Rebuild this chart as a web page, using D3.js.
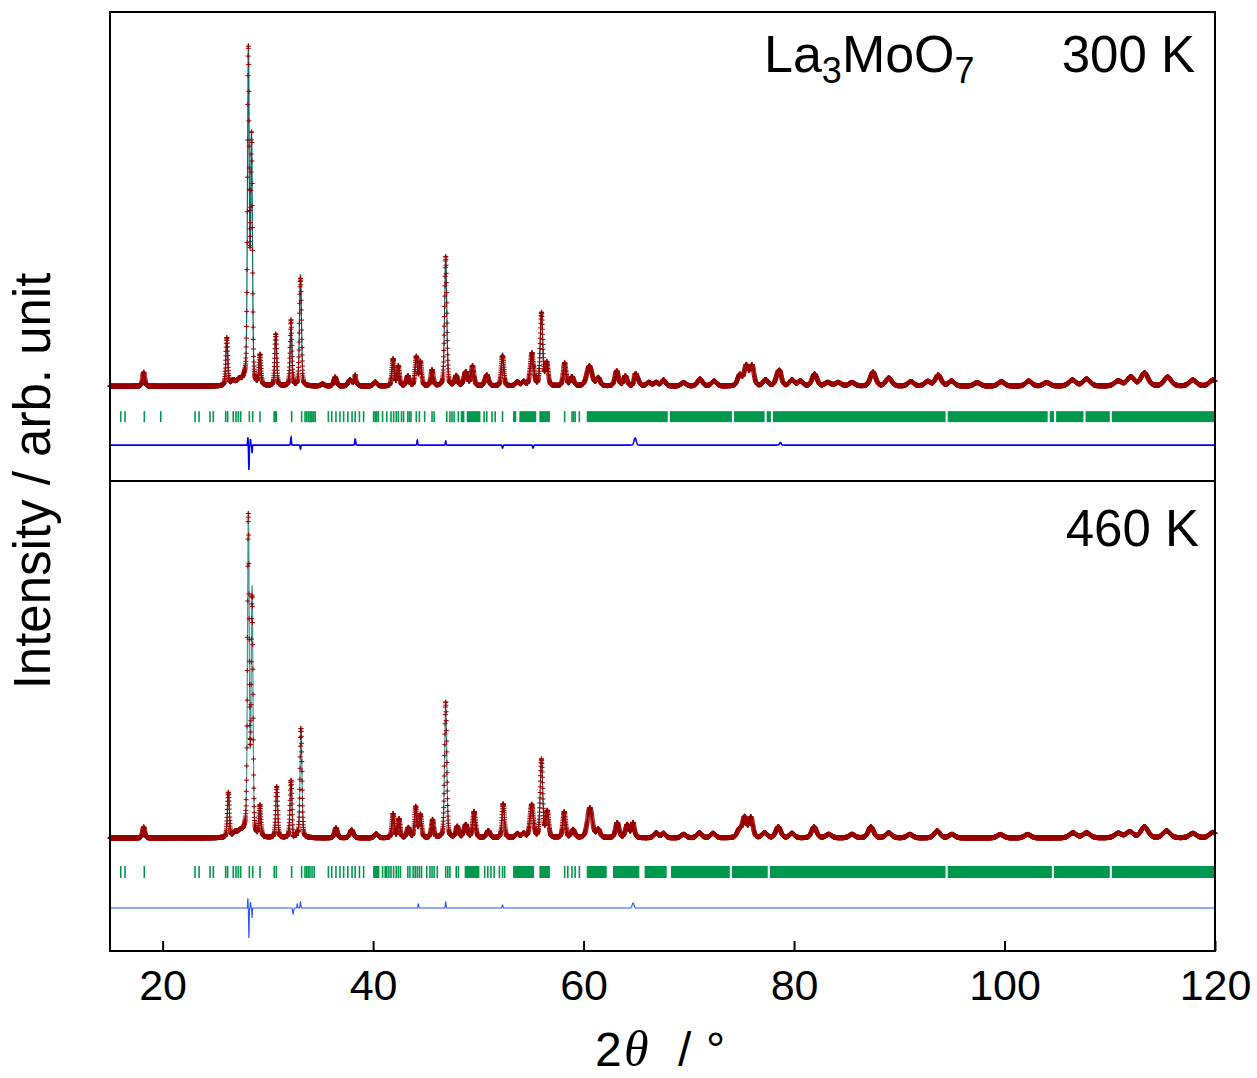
<!DOCTYPE html>
<html>
<head>
<meta charset="utf-8">
<script src="https://cdn.jsdelivr.net/npm/d3@7"></script>
<style>
body { margin: 0; background: #fff; }
text { font-family: "Liberation Sans", Arial, sans-serif; fill: #000; }
</style>
</head>
<body>
<div id="mainDiv"></div>
<script>
'use strict';

// ---- 300 K : peaks (2theta, height, fwhm) ----
var peakPos300 = [18.2, 26.1, 26.7, 27.3, 27.8, 28.15, 28.45, 29.25, 30.75, 32.2, 33.1, 35.2, 36.4, 37.8, 38.3, 40.2,
    41.9, 42.4, 43.3, 44.1, 44.5, 45.6, 46.9, 47.9, 48.8, 49.45, 50.8, 52.3, 53.7, 54.3, 55.1, 56.0, 56.5, 58.2, 58.9,
    60.55, 61.4, 63.15, 63.97, 65.08, 66.2, 66.9, 67.6, 69.5, 71.06, 72.4, 74.85, 75.46, 76.0, 77.3, 78.54, 79.8, 80.6,
    81.95, 83.2, 84.2, 85.5, 87.5, 89.0, 91.1, 92.7, 93.7, 94.96, 97.4, 99.7, 102.3, 104.0, 106.45, 107.8, 110.8, 112.0,
    113.3, 115.5, 117.9, 119.8];
var peakHgt300 = [140, 480, 50, 60, 60, 3350, 2450, 300, 520, 580, 1120, 20, 90, 60, 50, 40,
    270, 200, 100, 290, 240, 160, 1260, 100, 140, 200, 110, 330, 40, 40, 330, 730, 230, 230, 90,
    200, 80, 150, 100, 80, 35, 35, 60, 35, 70, 50, 110, 200, 200, 60, 150, 60, 50,
    120, 35, 35, 35, 140, 80, 45, 45, 110, 50, 35, 45, 50, 35, 60, 70, 50, 90,
    130, 90, 60, 60];
var peakFw300 = [0.26, 0.22, 0.5, 0.5, 0.4, 0.2, 0.2, 0.22, 0.22, 0.22, 0.22, 0.4, 0.32, 0.4, 0.4, 0.4,
    0.26, 0.26, 0.32, 0.26, 0.26, 0.28, 0.25, 0.32, 0.4, 0.32, 0.4, 0.28, 0.4, 0.4, 0.38, 0.28, 0.32, 0.32, 0.4,
    0.6, 0.4, 0.4, 0.4, 0.45, 0.5, 0.5, 0.45, 0.55, 0.55, 0.55, 0.5, 0.45, 0.45, 0.55, 0.55, 0.55, 0.55,
    0.55, 0.65, 0.65, 0.65, 0.6, 0.65, 0.65, 0.65, 0.65, 0.65, 0.7, 0.7, 0.7, 0.7, 0.8, 0.8, 0.8, 0.8,
    0.8, 0.8, 0.8, 0.8];
// difference (obs - calc) features
var diffPos300 = [28.1, 28.2, 28.35, 28.5, 32.2, 33.1, 38.3, 44.2, 46.9, 52.3, 55.2, 64.9, 78.7];
var diffAmp300 = [80, -250, 60, -80, 80, -40, 60, 50, 40, -30, -30, 70, 25];
var diffFw300 = [0.05, 0.06, 0.05, 0.05, 0.08, 0.08, 0.1, 0.08, 0.08, 0.1, 0.1, 0.25, 0.2];
// Bragg reflection markers
var refl300 = [16.02, 16.43, 18.26, 19.82, 23.08, 23.46, 24.5, 24.82, 25.99, 26.18, 26.71, 26.97, 27.19, 27.42,
    28.24, 28.56, 29.25, 30.6, 30.7, 30.8, 32.26, 33.21, 33.53, 33.69, 33.84, 34.0, 34.1, 34.2, 34.35, 34.5,
    35.75, 36.07, 36.47, 36.85, 37.2, 37.6, 38.0, 38.3, 38.7, 39.1, 40.05, 40.2, 40.35, 40.5, 40.9, 41.3, 41.7,
    41.95, 42.2, 42.4, 42.7, 42.9, 43.3, 43.45, 43.6, 44.1, 44.4, 44.9, 45.6, 45.8, 47.0, 47.3, 47.5, 47.7,
    48.1, 48.4, 48.5, 48.6, 50.55, 50.8, 51.3, 51.6, 52.3, 58.2, 58.9, 59.05, 59.2, 59.6];
var reflBands300 = [[48.9, 50.2], [53.3, 53.6], [53.9, 55.5], [55.8, 56.8], [60.3, 68.0], [68.2, 74.1], [74.3, 77.2],
    [77.4, 77.8], [78.0, 94.4], [94.6, 104.1], [104.3, 104.7], [104.9, 107.5], [107.7, 110.0], [110.2, 120]];

// ---- 460 K ----
var peakPos460 = [18.2, 26.25, 26.9, 27.4, 27.85, 28.15, 28.5, 29.25, 30.84, 32.2, 33.15, 36.47, 37.96, 40.3,
    41.9, 42.46, 43.35, 44.05, 44.5, 45.65, 46.9, 48.0, 48.8, 49.6, 50.95, 52.37, 53.7, 54.3, 55.07, 56.0, 56.55,
    58.16, 59.0, 60.6, 61.4, 63.2, 64.15, 64.7, 66.9, 67.6, 69.5, 71.0, 72.3, 74.8, 75.3, 75.9, 77.2, 78.5, 79.8,
    81.9, 83.3, 85.5, 87.3, 89.0, 91.0, 93.6, 95.0, 99.6, 102.2, 106.5, 107.8, 110.8, 111.9, 113.3, 115.4, 117.9, 119.8];
var peakHgt460 = [110, 450, 50, 60, 55, 3200, 2450, 310, 510, 570, 1070, 100, 80, 40,
    240, 190, 100, 310, 230, 180, 1300, 110, 130, 260, 70, 330, 40, 40, 330, 780, 260,
    260, 80, 300, 80, 150, 130, 100, 50, 45, 35, 50, 45, 80, 200, 200, 50, 110, 45,
    110, 35, 35, 110, 50, 35, 70, 35, 35, 35, 50, 50, 45, 60, 110, 70, 45, 55];
var peakFw460 = [0.26, 0.22, 0.5, 0.5, 0.4, 0.2, 0.2, 0.22, 0.22, 0.22, 0.22, 0.32, 0.4, 0.4,
    0.26, 0.26, 0.32, 0.26, 0.26, 0.28, 0.25, 0.32, 0.4, 0.32, 0.4, 0.28, 0.4, 0.4, 0.38, 0.28, 0.32,
    0.32, 0.4, 0.55, 0.4, 0.4, 0.4, 0.4, 0.5, 0.45, 0.55, 0.55, 0.55, 0.5, 0.45, 0.45, 0.55, 0.55, 0.55,
    0.55, 0.65, 0.65, 0.6, 0.65, 0.65, 0.65, 0.65, 0.7, 0.7, 0.8, 0.8, 0.8, 0.8, 0.8, 0.8, 0.8, 0.8];
var diffPos460 = [28.1, 28.2, 28.35, 28.5, 32.4, 32.8, 33.1, 44.3, 46.9, 52.3, 64.7];
var diffAmp460 = [100, -300, 60, -100, -60, 40, 60, 40, 60, 30, 50];
var diffFw460 = [0.05, 0.06, 0.05, 0.05, 0.1, 0.08, 0.08, 0.08, 0.08, 0.1, 0.2];
var refl460 = [16.02, 16.43, 18.26, 23.08, 23.46, 24.5, 24.82, 25.99, 26.18, 26.71, 26.97, 27.19, 27.42,
    28.24, 28.56, 29.25, 30.6, 30.8, 32.26, 33.21, 33.53, 33.69, 33.84, 34.0, 34.2, 34.4,
    35.75, 36.07, 36.47, 36.85, 37.2, 37.6, 38.0, 38.3, 38.7, 39.1, 40.9, 41.15, 41.3, 41.5, 41.7,
    41.95, 42.2, 42.4, 42.6, 43.3, 43.5, 43.8, 44.0, 44.2, 44.4, 44.6, 45.1, 45.4, 45.6, 45.8, 46.1,
    46.9, 47.1, 47.3, 47.9, 48.1, 50.6, 50.9, 51.2, 51.5, 52.0, 52.3, 52.5, 58.2, 58.5, 58.9, 59.2, 59.6];
var reflBands460 = [[40.0, 40.6], [48.7, 50.1], [53.3, 55.3], [55.8, 56.8], [60.3, 62.2], [62.8, 65.3],
    [65.8, 67.9], [68.3, 73.9], [74.1, 77.5], [77.7, 94.4], [94.6, 104.5], [104.7, 110.0], [110.2, 120]];

var xTickVals = [20, 40, 60, 80, 100, 120];
var xDomain = [15, 120];
var stepDeg = 0.015;

var myApp = {};
myApp.W = 1257;
myApp.H = 1078;
myApp.frame = {left: 110, right: 1215, top: 12, mid: 481, bottom: 951};
myApp.svg = undefined;
myApp.x = undefined;

myApp.panels = [
    {pos: peakPos300, hgt: peakHgt300, fw: peakFw300, dPos: diffPos300, dAmp: diffAmp300, dFw: diffFw300,
     refl: refl300, bands: reflBands300, yDom: [-950, 3750], top: 12, bot: 481,
     tickTop: -250, tickBot: -360, diffZero: -590, calcCol: '#006e6e', diffCol: '#0000ff', diffW: 1.6},
    {pos: peakPos460, hgt: peakHgt460, fw: peakFw460, dPos: diffPos460, dAmp: diffAmp460, dFw: diffFw460,
     refl: refl460, bands: reflBands460, yDom: [-1130, 3570], top: 481, bot: 951,
     tickTop: -280, tickBot: -400, diffZero: -700, calcCol: '#3c9a9a', diffCol: '#1f55ff', diffW: 1.1}
];

myApp.profile = function(p, t)
{
    var s = 0;
    for (var i = 0; i < p.pos.length; i++) {
        var d = (t - p.pos[i]) / p.fw[i];
        if (Math.abs(d) > 40) continue;
        var g = Math.exp(-2.7726 * d * d);
        var l = 1 / (1 + 4 * d * d);
        s += p.hgt[i] * (0.7 * g + 0.3 * l);
    }
    return s;
}

myApp.diff = function(p, t)
{
    var s = 0;
    for (var i = 0; i < p.dPos.length; i++) {
        var d = (t - p.dPos[i]) / p.dFw[i];
        if (Math.abs(d) > 6) continue;
        s += p.dAmp[i] * Math.exp(-2.7726 * d * d);
    }
    return s;
}

myApp.appendSvg = function(div)
{
    myApp.svg = d3.select(div).append('svg')
        .attr('width', myApp.W)
        .attr('height', myApp.H);
}

myApp.buildPanel = function(p)
{
    var x = myApp.x;
    var y = d3.scaleLinear().domain(p.yDom).range([p.bot, p.top]);
    var g = myApp.svg.append('g').attr('class', 'panel');

    var pts = [];
    var n = Math.round((xDomain[1] - xDomain[0]) / stepDeg);
    for (var i = 0; i <= n; i++) {
        var t = xDomain[0] + i * stepDeg;
        var c = myApp.profile(p, t);
        var d = myApp.diff(p, t);
        pts.push({t: t, calc: c, obs: c + d, diff: d});
    }

    // calculated pattern
    g.append('path')
        .attr('d', d3.line().x(function(d){ return x(d.t); }).y(function(d){ return y(d.calc); })(pts))
        .attr('fill', 'none')
        .attr('stroke', p.calcCol)
        .attr('stroke-width', 1.2);

    // observed points as crosses
    var cross = '';
    pts.forEach(function(d) {
        var px = x(d.t), py = y(d.obs);
        cross += 'M' + (px - 2.5).toFixed(1) + ',' + py.toFixed(1) + 'h5M' + px.toFixed(1) + ',' + (py - 2.5).toFixed(1) + 'v5';
    });
    g.append('path')
        .attr('d', cross)
        .attr('fill', 'none')
        .attr('stroke', '#990000')
        .attr('stroke-width', 1);

    // Bragg positions
    g.selectAll('line.refl')
        .data(p.refl)
        .enter()
        .append('line')
        .attr('class', 'refl')
        .attr('x1', function(d){ return x(d); })
        .attr('x2', function(d){ return x(d); })
        .attr('y1', y(p.tickTop))
        .attr('y2', y(p.tickBot))
        .attr('stroke', '#00994c')
        .attr('stroke-width', 1.6);
    g.selectAll('rect.band')
        .data(p.bands)
        .enter()
        .append('rect')
        .attr('class', 'band')
        .attr('x', function(d){ return x(d[0]); })
        .attr('width', function(d){ return x(Math.min(d[1], 119.95)) - x(d[0]); })
        .attr('y', y(p.tickTop))
        .attr('height', y(p.tickBot) - y(p.tickTop))
        .attr('fill', '#00994c');

    // difference curve
    g.append('path')
        .attr('d', d3.line().x(function(d){ return x(d.t); }).y(function(d){ return y(p.diffZero + d.diff); })(pts))
        .attr('fill', 'none')
        .attr('stroke', p.diffCol)
        .attr('stroke-width', p.diffW);
}

myApp.buildFrame = function()
{
    var f = myApp.frame;
    var x = myApp.x;
    var svg = myApp.svg;

    svg.append('rect')
        .attr('x', f.left).attr('y', f.top)
        .attr('width', f.right - f.left).attr('height', f.bottom - f.top)
        .attr('fill', 'none').attr('stroke', '#000').attr('stroke-width', 2);
    svg.append('line')
        .attr('x1', f.left).attr('x2', f.right).attr('y1', f.mid).attr('y2', f.mid)
        .attr('stroke', '#000').attr('stroke-width', 2);

    var axis = d3.axisBottom(x).tickValues(xTickVals).tickSizeInner(-10).tickSizeOuter(0).tickPadding(18);
    var ax = svg.append('g')
        .attr('transform', 'translate(0,' + f.bottom + ')')
        .call(axis);
    ax.select('.domain').remove();
    ax.selectAll('.tick line').attr('stroke', '#000').attr('stroke-width', 2);
    ax.selectAll('.tick text')
        .attr('font-family', '"Liberation Sans", Arial, sans-serif')
        .attr('font-size', 43)
        .attr('fill', '#000');

    // axis titles
    svg.append('text')
        .attr('transform', 'translate(50,481) rotate(-90)')
        .attr('text-anchor', 'middle')
        .attr('font-size', 51)
        .text('Intensity / arb. unit');

    var xl = svg.append('g');
    xl.append('text').attr('x', 595).attr('y', 1066).attr('font-size', 48).text('2');
    xl.append('text').attr('x', 624).attr('y', 1066).attr('font-size', 50)
        .style('font-family', '"Liberation Serif", "Times New Roman", serif')
        .style('font-style', 'italic').text('θ');
    xl.append('text').attr('x', 678).attr('y', 1066).attr('font-size', 48).text('/');
    xl.append('text').attr('x', 706).attr('y', 1066).attr('font-size', 48).text('°');

    // labels
    var t = svg.append('text').attr('x', 764).attr('y', 72).attr('font-size', 52);
    t.append('tspan').text('La');
    t.append('tspan').attr('font-size', 36).attr('dy', 11).text('3');
    t.append('tspan').attr('dy', -11).text('MoO');
    t.append('tspan').attr('font-size', 36).attr('dy', 11).text('7');
    svg.append('text').attr('x', 1195).attr('y', 72).attr('text-anchor', 'end').attr('font-size', 51).text('300 K');
    svg.append('text').attr('x', 1199).attr('y', 546).attr('text-anchor', 'end').attr('font-size', 51).text('460 K');
}

myApp.run = function()
{
    myApp.appendSvg('#mainDiv');
    myApp.x = d3.scaleLinear().domain(xDomain).range([myApp.frame.left, myApp.frame.right]);
    myApp.panels.forEach(myApp.buildPanel);
    myApp.buildFrame();
}

window.onload = myApp.run;
</script>
</body>
</html>
